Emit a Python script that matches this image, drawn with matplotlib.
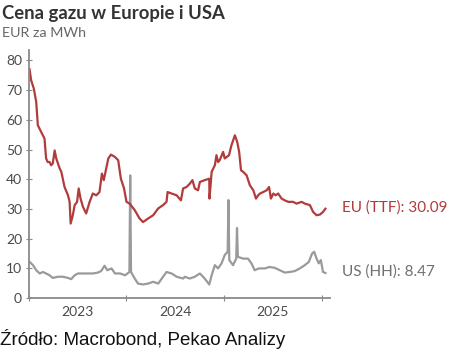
import matplotlib
matplotlib.use('Agg')
import matplotlib.pyplot as plt
import matplotlib.dates as mdates
import numpy as np

plt.rcParams['font.family'] = ['Lato', 'DejaVu Sans']

# TTF (EU) - odczyt z wykresu
eu_dates = ['2023-01-03', '2023-01-09', '2023-01-19', '2023-01-28', '2023-02-03', '2023-02-15',
            '2023-02-28', '2023-03-06', '2023-03-12', '2023-03-19', '2023-03-25', '2023-03-31',
            '2023-04-07', '2023-04-13', '2023-04-26', '2023-05-02', '2023-05-14', '2023-05-27',
            '2023-06-02', '2023-06-06', '2023-06-14', '2023-06-21', '2023-06-30', '2023-07-06',
            '2023-07-13', '2023-07-22', '2023-08-03', '2023-08-16', '2023-08-28', '2023-09-10',
            '2023-09-22', '2023-10-01', '2023-10-08', '2023-10-25', '2023-11-04', '2023-11-19',
            '2023-12-01', '2023-12-11', '2023-12-23', '2024-01-01', '2024-01-13', '2024-02-01',
            '2024-02-19', '2024-03-03', '2024-03-22', '2024-04-10', '2024-04-29', '2024-05-17',
            '2024-05-30', '2024-06-03', '2024-06-18', '2024-07-07', '2024-07-23', '2024-07-31',
            '2024-08-13', '2024-08-25', '2024-09-04', '2024-09-13', '2024-09-25', '2024-10-02',
            '2024-10-20', '2024-11-06', '2024-11-07', '2024-11-15', '2024-11-27', '2024-12-03',
            '2024-12-09', '2024-12-15', '2024-12-28', '2025-01-03', '2025-01-19', '2025-01-28',
            '2025-02-10', '2025-02-19', '2025-02-26', '2025-03-05', '2025-03-13', '2025-03-26',
            '2025-04-07', '2025-04-20', '2025-04-30', '2025-05-08', '2025-05-15', '2025-05-27',
            '2025-06-09', '2025-06-18', '2025-06-25', '2025-07-04', '2025-07-13', '2025-07-22',
            '2025-08-04', '2025-08-16', '2025-08-29', '2025-09-16', '2025-09-29', '2025-10-18',
            '2025-10-30', '2025-11-18', '2025-11-30', '2025-12-13', '2025-12-25', '2026-01-06',
            '2026-01-15']
eu_vals = [77.0, 73.3, 70.5, 66.0, 58.2, 56.0,
           53.7, 47.0, 45.8, 45.8, 44.7, 45.3,
           49.7, 47.0, 43.6, 42.5, 37.4, 34.6,
           32.4, 25.1, 27.9, 31.3, 32.4, 36.9,
           33.5, 30.7, 28.5, 32.4, 35.2, 34.6,
           35.7, 41.9, 39.7, 47.0, 48.3, 47.5,
           46.4, 40.2, 36.9, 32.4, 31.8, 29.6,
           26.8, 25.6, 26.8, 27.9, 30.2, 31.3,
           32.4, 35.7, 35.2, 34.6, 32.9, 36.9,
           37.4, 38.5, 39.7, 36.9, 36.3, 39.1,
           39.7, 40.2, 33.5, 42.5, 44.7, 48.1,
           45.8, 46.4, 49.2, 47.0, 48.1, 51.4,
           54.8, 52.5, 49.2, 43.0, 42.5, 41.3,
           38.0, 36.3, 33.5, 34.6, 35.2, 35.7,
           36.3, 37.4, 33.5, 35.2, 34.6, 35.2,
           33.5, 32.9, 32.4, 32.4, 31.8, 32.4,
           31.8, 31.3, 29.0, 27.9, 28.1, 29.0,
           30.09]

# Henry Hub (US) - odczyt z wykresu
us_dates = ['2023-01-03', '2023-01-16', '2023-01-28', '2023-02-10', '2023-02-22', '2023-03-06',
            '2023-03-19', '2023-03-31', '2023-04-19', '2023-05-08', '2023-05-27', '2023-06-08',
            '2023-06-21', '2023-07-03', '2023-07-22', '2023-08-10', '2023-08-28', '2023-09-16',
            '2023-09-28', '2023-10-11', '2023-10-21', '2023-11-06', '2023-11-19', '2023-12-08',
            '2023-12-27', '2024-01-12', '2024-01-15', '2024-01-18', '2024-02-01', '2024-02-13',
            '2024-03-03', '2024-03-22', '2024-04-10', '2024-04-29', '2024-05-17', '2024-05-30',
            '2024-06-18', '2024-07-07', '2024-07-31', '2024-08-07', '2024-08-25', '2024-09-13',
            '2024-10-02', '2024-10-20', '2024-11-06', '2024-11-15', '2024-11-27', '2024-12-09',
            '2024-12-22', '2025-01-03', '2025-01-14', '2025-01-17', '2025-01-20', '2025-02-03',
            '2025-02-15', '2025-02-18', '2025-02-21', '2025-03-13', '2025-03-31', '2025-04-13',
            '2025-04-25', '2025-05-11', '2025-06-02', '2025-06-20', '2025-07-09', '2025-07-28',
            '2025-08-16', '2025-09-03', '2025-09-22', '2025-10-11', '2025-10-30', '2025-11-14',
            '2025-11-26', '2025-12-04', '2025-12-13', '2025-12-21', '2025-12-29', '2026-01-06',
            '2026-01-15']
us_vals = [12.2, 11.1, 9.4, 8.3, 8.8, 8.3,
           7.7, 6.8, 7.2, 7.2, 6.8, 6.4,
           7.7, 8.3, 8.3, 8.3, 8.3, 8.6,
           9.1, 10.9, 9.4, 10.0, 8.3, 8.3,
           7.7, 8.8, 41.3, 8.8, 6.6, 4.9,
           4.6, 4.9, 5.5, 4.9, 7.2, 8.8,
           8.3, 7.2, 6.6, 7.2, 6.6, 7.2,
           8.3, 6.6, 4.6, 7.7, 11.1, 10.0,
           11.7, 14.5, 15.6, 33.0, 12.8, 11.1,
           13.3, 23.6, 13.9, 13.3, 13.3, 11.7,
           9.4, 10.0, 10.0, 10.5, 10.2, 9.4,
           8.6, 8.8, 9.1, 10.0, 11.1, 12.2,
           15.0, 15.6, 13.3, 11.7, 12.8, 8.8,
           8.47]

eu_x = np.array(eu_dates, dtype='datetime64[D]')
us_x = np.array(us_dates, dtype='datetime64[D]')

red = '#b23b3b'
grey = '#9a9a9a'
axis_col = '#8a8a8a'
txt = '#4a4a4a'

fig = plt.figure(figsize=(4.68, 3.52), dpi=100)
ax = fig.add_axes([0.062, 0.153, 0.643, 0.705])

ax.plot(us_x, us_vals, color=grey, lw=1.6)
ax.plot(eu_x, eu_vals, color=red, lw=1.6)

ax.set_ylim(0, 83.5)
ax.set_xlim(np.datetime64('2023-01-01'), np.datetime64('2026-02-01'))
ax.set_yticks([0, 10, 20, 30, 40, 50, 60, 70, 80])

ax.xaxis.set_major_locator(mdates.YearLocator())
ax.xaxis.set_major_formatter(plt.NullFormatter())
ax.xaxis.set_minor_locator(mdates.MonthLocator(bymonth=7, bymonthday=1))
ax.xaxis.set_minor_formatter(mdates.DateFormatter('%Y'))

for s in ['top', 'right']:
    ax.spines[s].set_visible(False)
for s in ['left', 'bottom']:
    ax.spines[s].set_color(axis_col)
    ax.spines[s].set_linewidth(1.3)

ax.tick_params(axis='y', which='major', direction='inout', length=4, color=axis_col,
               labelsize=10, labelcolor=txt, pad=3)
ax.tick_params(axis='x', which='major', direction='inout', length=5, color=axis_col)
ax.tick_params(axis='x', which='minor', length=0, labelsize=10, labelcolor=txt, pad=6)

fig.text(0.005, 0.962, 'Cena gazu w Europie i USA', fontsize=13.3, fontweight='bold',
         color='#333333', va='center', ha='left')
fig.text(0.005, 0.905, 'EUR za MWh', fontsize=10.3, color='#666666', va='center', ha='left')

ax.annotate('EU (TTF): 30.09', xy=(1.0, 0), xycoords='axes fraction',
            xytext=(342, 352 - 208), textcoords='figure pixels',
            color=red, fontsize=11, va='center', ha='left')
ax.annotate('US (HH): 8.47', xy=(1.0, 0), xycoords='axes fraction',
            xytext=(342, 352 - 272), textcoords='figure pixels',
            color='#707070', fontsize=11, va='center', ha='left')

fig.text(0.0, 0.008, 'Źródło: Macrobond, Pekao Analizy', fontsize=13.5,
         family=['Liberation Sans', 'DejaVu Sans'], color='#111111', va='bottom', ha='left')

fig.savefig('out.png', dpi=100)
